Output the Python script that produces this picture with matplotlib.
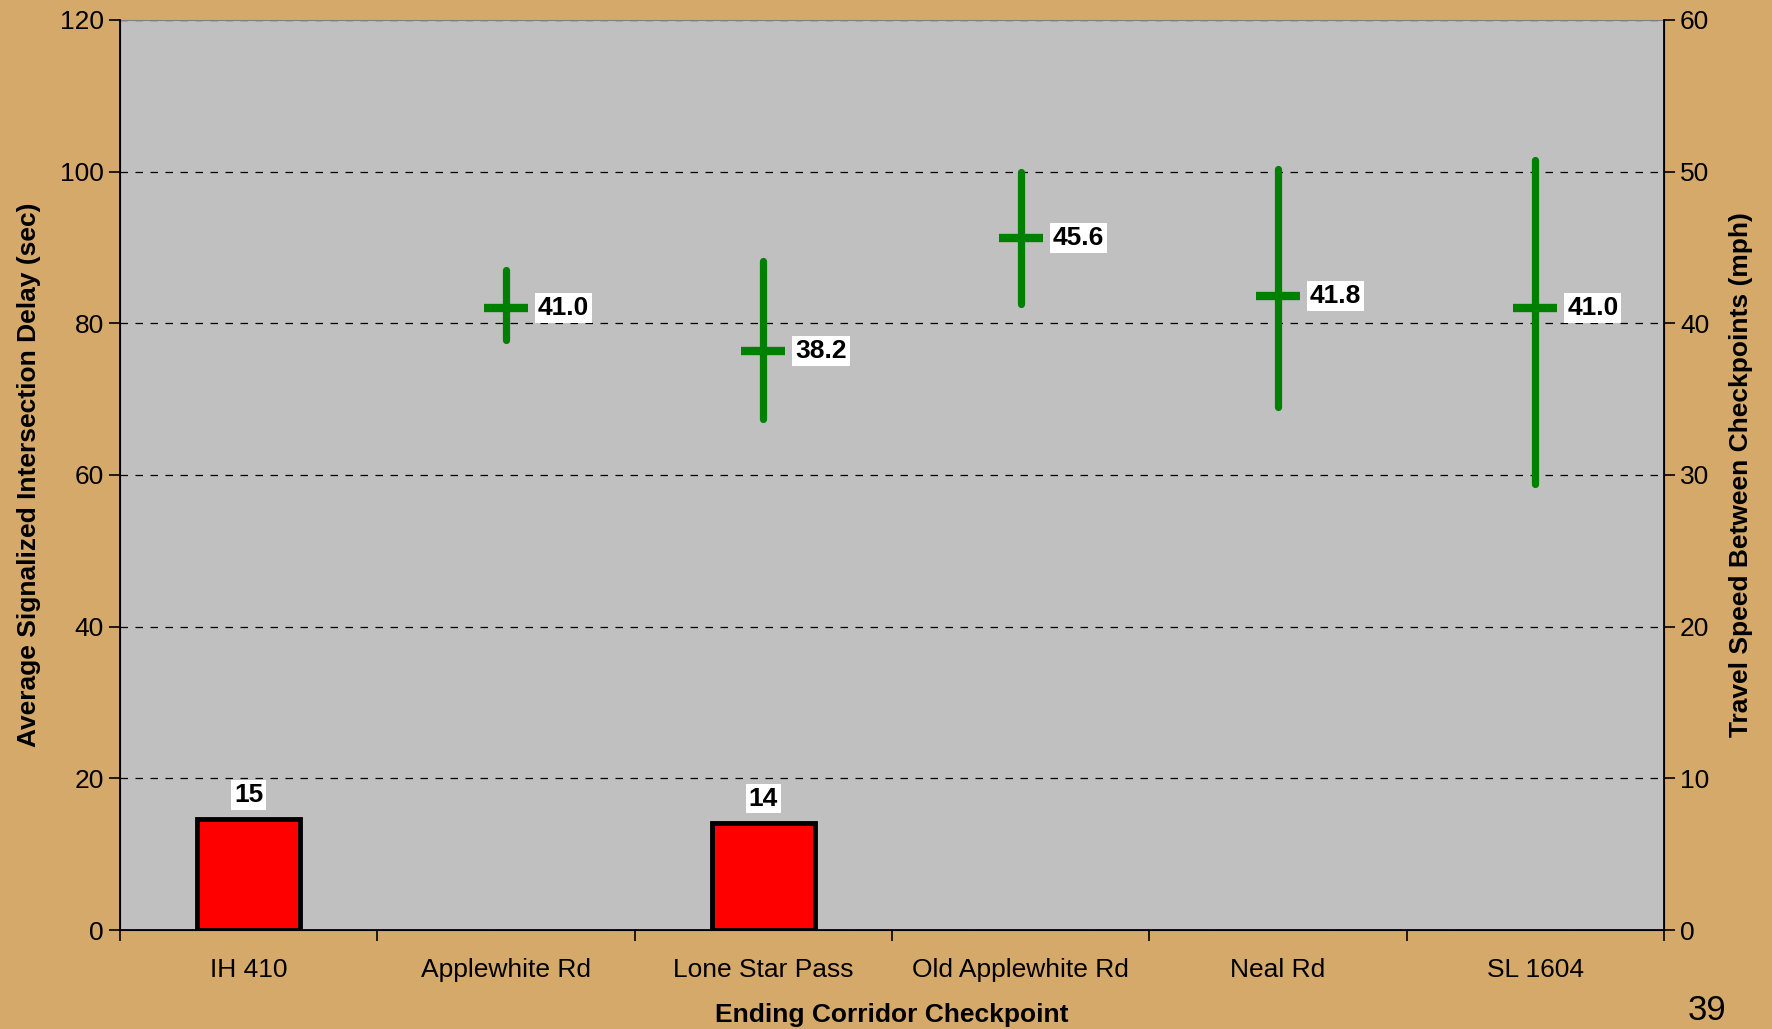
import numpy as np
import matplotlib.pyplot as plt
from matplotlib.ticker import FixedLocator

plt.rcParams['font.family'] = ['Liberation Sans', 'DejaVu Sans']

# data
checkpoints = ["IH 410", "Applewhite Rd", "Lone Star Pass", "Old Applewhite Rd", "Neal Rd", "SL 1604"]
delay_sec = [14.6, np.nan, 14.1, np.nan, np.nan, np.nan]
speed_avg = [np.nan, 41.0, 38.2, 45.6, 41.8, 41.0]
speed_min = [np.nan, 38.9, 33.7, 41.3, 34.5, 29.4]
speed_max = [np.nan, 43.5, 44.1, 50.0, 50.2, 50.8]

tan = '#D4A96A'
fs = 19
x = np.arange(len(checkpoints))

fig = plt.figure(figsize=(17.72, 10.29), dpi=100, facecolor=tan)
ax = fig.add_axes([0.0677, 0.0962, 0.8713, 0.8844])
ax.set_facecolor('#C0C0C0')

# delay bars (left axis)
ax.bar(x, delay_sec, width=0.4, color='#FF0000', edgecolor='black', linewidth=3.5, zorder=3)
for xi, v in zip(x, delay_sec):
    if not np.isnan(v):
        ax.annotate('%.0f' % v, (xi, v), xytext=(0, 9), textcoords='offset points',
                    ha='center', va='bottom', fontsize=fs, fontweight='bold',
                    bbox=dict(facecolor='white', edgecolor='none', pad=2), zorder=5)

ax.set_xlim(-0.5, len(checkpoints) - 0.5)
ax.set_ylim(0, 120)
ax.set_yticks(range(0, 121, 20))
ax.set_xticks(x)
ax.set_xticklabels(checkpoints, fontsize=fs)
ax.tick_params(axis='x', which='major', length=0, pad=20)
ax.xaxis.set_minor_locator(FixedLocator(np.arange(-0.5, len(checkpoints), 1.0)))
ax.tick_params(axis='x', which='minor', length=8, width=1.2, direction='out')
ax.tick_params(axis='y', labelsize=fs, length=8, width=1.2, direction='out')
ax.grid(axis='y', linestyle=(0, (6, 6)), color='black', linewidth=0.9)
ax.set_axisbelow(True)
ax.set_ylabel('Average Signalized Intersection Delay (sec)', fontsize=fs, fontweight='bold', labelpad=14)
ax.set_xlabel('Ending Corridor Checkpoint', fontsize=fs, fontweight='bold', labelpad=15)
for s in ['left', 'bottom']:
    ax.spines[s].set_linewidth(1.3)
ax.spines['top'].set_color('#808080')

# travel speed (right axis)
ax2 = ax.twinx()
ax2.set_ylim(0, 60)
ax2.set_yticks(range(0, 61, 10))
ax2.tick_params(axis='y', labelsize=fs, length=8, width=1.2, direction='out')
ax2.spines['right'].set_linewidth(1.3)
ax2.spines['top'].set_visible(False)
ax2.set_ylabel('Travel Speed Between Checkpoints (mph)', fontsize=fs, fontweight='bold', labelpad=14)

for xi, lo, hi, avg in zip(x, speed_min, speed_max, speed_avg):
    if np.isnan(avg):
        continue
    ax2.plot([xi, xi], [lo, hi], color='green', linewidth=5.2, solid_capstyle='round', zorder=4)
    ax2.plot([xi], [avg], marker='_', markersize=32, markeredgewidth=6, color='green', zorder=4)
    ax2.annotate('%.1f' % avg, (xi, avg), xytext=(23, 0), textcoords='offset points',
                 ha='left', va='center', fontsize=fs, fontweight='bold',
                 bbox=dict(facecolor='white', edgecolor='none', pad=2), zorder=5)

# page number
fig.text(0.9635, 0.002, '39', fontsize=25, ha='center', va='bottom')

fig.savefig('out.png', dpi=100, facecolor=tan)
